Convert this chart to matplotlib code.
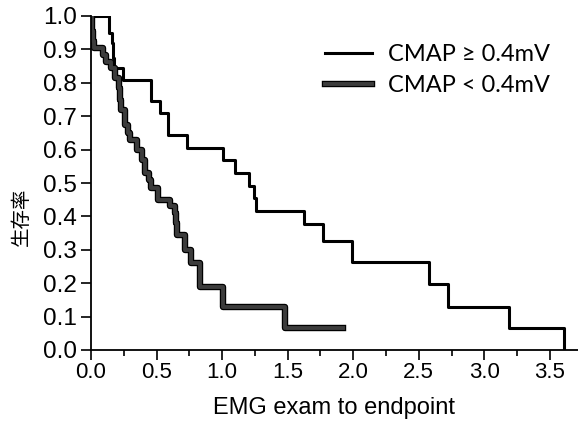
import matplotlib
matplotlib.use("Agg")
import matplotlib.pyplot as plt
import matplotlib.patheffects as pe
import numpy as np

# CMAP >= 0.4mV (thin black) : step times and survival after each step
hi_t = [0.0, 0.14, 0.16, 0.168, 0.175, 0.245, 0.46, 0.527, 0.59, 0.735, 1.005, 1.10, 1.205, 1.245, 1.26, 1.627, 1.767, 1.988, 2.58, 2.725, 3.19, 3.61]
hi_s = [1.0, 0.948, 0.918, 0.875, 0.843, 0.808, 0.745, 0.71, 0.645, 0.605, 0.568, 0.53, 0.49, 0.455, 0.415, 0.377, 0.327, 0.263, 0.197, 0.13, 0.065, 0.0]

# CMAP < 0.4mV (thick grey)
lo_t = [0.0, 0.008, 0.015, 0.02, 0.09, 0.117, 0.155, 0.18, 0.215, 0.225, 0.232, 0.26, 0.28, 0.30, 0.35, 0.387, 0.41, 0.44, 0.46, 0.51, 0.60, 0.64, 0.65, 0.655, 0.717, 0.765, 0.835, 1.005, 1.48, 1.925]
lo_s = [1.0, 0.955, 0.924, 0.903, 0.883, 0.863, 0.843, 0.813, 0.783, 0.75, 0.718, 0.675, 0.65, 0.63, 0.60, 0.57, 0.53, 0.51, 0.485, 0.45, 0.43, 0.41, 0.38, 0.345, 0.30, 0.26, 0.19, 0.13, 0.065, 0.065]

labels = ["CMAP \u2265 0.4mV", "CMAP < 0.4mV"]
xticks = [0.0, 0.5, 1.0, 1.5, 2.0, 2.5, 3.0, 3.5]
yticks = [0.0, 0.1, 0.2, 0.3, 0.4, 0.5, 0.6, 0.7, 0.8, 0.9, 1.0]

W, H = 578, 421
fig = plt.figure(figsize=(W/100, H/100), dpi=100)
ax = fig.add_axes([91/W, 1-350/H, 1-91/W, (350-16)/H])

ax.step(hi_t, hi_s, where="post", color="black", lw=2.2, label=labels[0])
ax.step(lo_t, lo_s, where="post", color="#3c3c3c", lw=2.8, label=labels[1],
        path_effects=[pe.Stroke(linewidth=4.6, foreground="black"), pe.Normal()])

ax.set_xlim(0, (W-91)/131.1)
ax.set_ylim(0, 1.0)
ax.spines["top"].set_visible(False)
ax.spines["right"].set_visible(False)
for s in ("left", "bottom"):
    ax.spines[s].set_linewidth(1.3)
ax.set_xticks(xticks)
ax.set_xticklabels([f"{v:.1f}" for v in xticks])
ax.set_xticks(np.arange(0.25, 3.75, 0.5), minor=True)
ax.set_yticks(yticks)
ax.set_yticklabels([f"{v:.1f}" for v in yticks])
ax.tick_params(which="major", length=7, width=1.2, direction="out")
ax.tick_params(axis="x", which="major", labelsize=16, pad=2)
ax.tick_params(axis="y", which="major", labelsize=17.5, pad=3)
ax.tick_params(which="minor", length=4.5, width=1.2, direction="out")
for lab in ax.get_xticklabels() + ax.get_yticklabels():
    lab.set_family("Liberation Sans")

ax.set_xlabel("EMG exam to endpoint", fontsize=17, family="Liberation Sans")
ax.xaxis.set_label_coords((334-91)/(W-91), -(408-350)/(350-16))
ax.xaxis.label.set_va("center")
ax.set_ylabel("生存率", fontsize=14, family=["Noto Sans CJK JP", "DejaVu Sans"])
ax.yaxis.set_label_coords(-(91-21)/(W-91), (350-217)/(350-16))
ax.yaxis.label.set_va("center")

leg = ax.legend(loc="upper left", bbox_to_anchor=(325/W, 1-44/H),
                bbox_transform=fig.transFigure, frameon=False, borderpad=0,
                borderaxespad=0, prop={"family": "Lato", "size": 17},
                handlelength=2.0, handletextpad=0.65, labelspacing=0.42)

fig.savefig("out.png", dpi=100)
